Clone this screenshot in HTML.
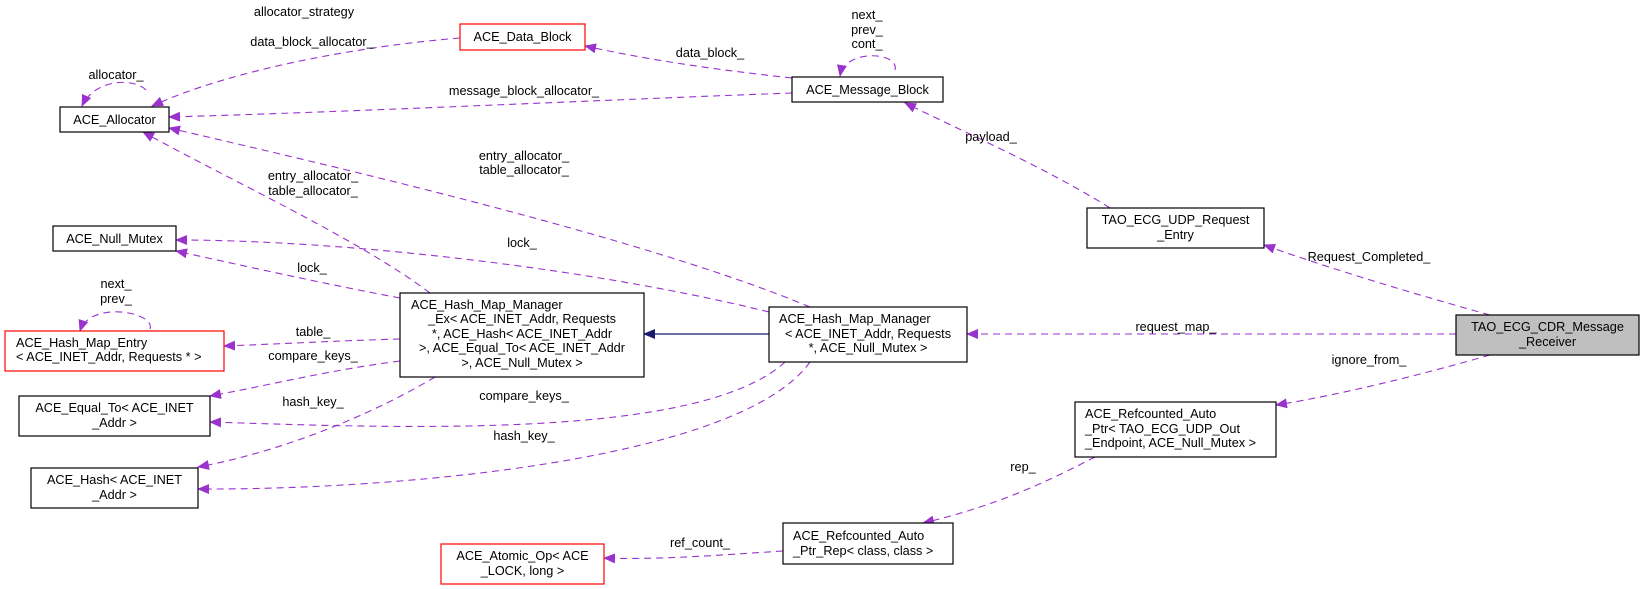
<!DOCTYPE html>
<html><head><meta charset="utf-8"><style>
html,body{margin:0;padding:0;background:#fff;}
svg{display:block;}
text{font-family:"Liberation Sans",Arial,sans-serif;font-size:12.7px;fill:#000;}
.e{fill:none;stroke:#9a32cd;stroke-width:1.1;stroke-dasharray:7,5;}
.b{fill:#fff;stroke:#000;stroke-width:1.2;}
.r{fill:#fff;stroke:#ff0000;stroke-width:1.2;}
</style></head><body>
<svg width="1645" height="589" viewBox="0 0 1645 589" xmlns="http://www.w3.org/2000/svg">
<defs>
<marker id="p" markerWidth="12" markerHeight="10" refX="11" refY="5" orient="auto" markerUnits="userSpaceOnUse"><path d="M0,0 L12,5 L0,10 z" fill="#9a32cd"/></marker>
<marker id="n" markerWidth="12" markerHeight="10" refX="11" refY="5" orient="auto" markerUnits="userSpaceOnUse"><path d="M0,0 L12,5 L0,10 z" fill="#191970"/></marker>
</defs>
<g marker-end="url(#p)">
<path class="e" d="M460,38 C360,46 230,70 152,106"/>
<path class="e" d="M146,90 C135,78 95,78 82,106"/>
<path class="e" d="M792,93 C600,100 350,112 169,117"/>
<path class="e" d="M792,78 C700,68 640,58 585,46"/>
<path class="e" d="M895,70 C900,52 845,48 840,76"/>
<path class="e" d="M1110,208 C1050,170 960,130 905,103"/>
<path class="e" d="M1490,315 C1400,290 1320,265 1264,245"/>
<path class="e" d="M1456,334 L967,334"/>
<path class="e" d="M1490,355 C1420,375 1340,395 1276,405"/>
<path class="e" d="M1095,457 C1050,480 1000,505 923,523"/>
<path class="e" d="M783,551 C720,555 660,560 604,558"/>
<path class="e" d="M430,293 C360,240 230,180 143,132"/>
<path class="e" d="M810,307 C650,240 350,170 169,128"/>
<path class="e" d="M400,298 C330,285 240,265 176,251"/>
<path class="e" d="M769,312 C600,270 350,240 176,240"/>
<path class="e" d="M400,339 C330,341 280,344 224,346"/>
<path class="e" d="M150,329 C156,312 90,300 80,331"/>
<path class="e" d="M400,361 C330,370 270,385 210,396"/>
<path class="e" d="M435,377 C380,410 290,450 198,467"/>
<path class="e" d="M785,362 C700,440 400,428 210,422"/>
<path class="e" d="M810,362 C740,460 400,490 198,489"/>
</g>
<path d="M769,334 L644,334" stroke="#191970" stroke-width="1.2" fill="none" marker-end="url(#n)"/>

<!-- nodes -->
<rect class="b" x="60" y="107" width="109" height="25"/><text x="114.5" y="124" text-anchor="middle">ACE_Allocator</text>
<rect class="r" x="460" y="24" width="125" height="26"/><text x="522.5" y="41" text-anchor="middle">ACE_Data_Block</text>
<rect class="b" x="792" y="77" width="151" height="25"/><text x="867.5" y="94" text-anchor="middle">ACE_Message_Block</text>
<rect class="b" x="53" y="226" width="123" height="25"/><text x="114.5" y="243" text-anchor="middle">ACE_Null_Mutex</text>
<rect class="r" x="5" y="331" width="219" height="40"/><text x="16" y="347">ACE_Hash_Map_Entry</text><text x="16" y="361">&lt; ACE_INET_Addr, Requests * &gt;</text>
<rect class="b" x="19" y="396" width="191" height="40"/><text x="114.5" y="412" text-anchor="middle">ACE_Equal_To&lt; ACE_INET</text><text x="114.5" y="427" text-anchor="middle">_Addr &gt;</text>
<rect class="b" x="31" y="468" width="167" height="40"/><text x="114.5" y="484" text-anchor="middle">ACE_Hash&lt; ACE_INET</text><text x="114.5" y="499" text-anchor="middle">_Addr &gt;</text>
<rect class="b" x="400" y="293" width="244" height="84"/>
<text x="411" y="309">ACE_Hash_Map_Manager</text>
<text x="522" y="323" text-anchor="middle">_Ex&lt; ACE_INET_Addr, Requests</text>
<text x="522" y="338" text-anchor="middle">*, ACE_Hash&lt; ACE_INET_Addr</text>
<text x="522" y="352" text-anchor="middle">&gt;, ACE_Equal_To&lt; ACE_INET_Addr</text>
<text x="522" y="367" text-anchor="middle">&gt;, ACE_Null_Mutex &gt;</text>
<rect class="b" x="769" y="307" width="198" height="55"/>
<text x="779" y="323">ACE_Hash_Map_Manager</text>
<text x="868" y="338" text-anchor="middle">&lt; ACE_INET_Addr, Requests</text>
<text x="868" y="352" text-anchor="middle">*, ACE_Null_Mutex &gt;</text>
<rect class="b" x="1087" y="208" width="177" height="40"/><text x="1175.5" y="224" text-anchor="middle">TAO_ECG_UDP_Request</text><text x="1175.5" y="239" text-anchor="middle">_Entry</text>
<rect x="1456" y="315" width="183" height="40" fill="#bfbfbf" stroke="#000" stroke-width="1.2"/><text x="1547.5" y="331" text-anchor="middle">TAO_ECG_CDR_Message</text><text x="1547.5" y="346" text-anchor="middle">_Receiver</text>
<rect class="b" x="1075" y="402" width="201" height="55"/>
<text x="1085" y="418">ACE_Refcounted_Auto</text>
<text x="1085" y="433">_Ptr&lt; TAO_ECG_UDP_Out</text>
<text x="1085" y="447">_Endpoint, ACE_Null_Mutex &gt;</text>
<rect class="b" x="783" y="523" width="170" height="41"/><text x="793" y="540">ACE_Refcounted_Auto</text><text x="793" y="555">_Ptr_Rep&lt; class, class &gt;</text>
<rect class="r" x="441" y="544" width="163" height="40"/><text x="522.5" y="560" text-anchor="middle">ACE_Atomic_Op&lt; ACE</text><text x="522.5" y="575" text-anchor="middle">_LOCK, long &gt;</text>

<!-- edge labels -->
<g text-anchor="middle">
<text x="304" y="16">allocator_strategy</text>
<text x="312" y="46">data_block_allocator_</text>
<text x="116" y="79">allocator_</text>
<text x="867" y="19">next_</text><text x="867" y="34">prev_</text><text x="867" y="48">cont_</text>
<text x="710" y="57">data_block_</text>
<text x="524" y="95">message_block_allocator_</text>
<text x="991" y="141">payload_</text>
<text x="524" y="160">entry_allocator_</text><text x="524" y="174">table_allocator_</text>
<text x="313" y="180">entry_allocator_</text><text x="313" y="195">table_allocator_</text>
<text x="522" y="247">lock_</text>
<text x="312" y="272">lock_</text>
<text x="116" y="288">next_</text><text x="116" y="303">prev_</text>
<text x="313" y="336">table_</text>
<text x="313" y="360">compare_keys_</text>
<text x="313" y="406">hash_key_</text>
<text x="524" y="400">compare_keys_</text>
<text x="524" y="440">hash_key_</text>
<text x="1369" y="261">Request_Completed_</text>
<text x="1176" y="331">request_map_</text>
<text x="1369" y="364">ignore_from_</text>
<text x="1023" y="471">rep_</text>
<text x="700" y="547">ref_count_</text>
</g>
</svg>
</body></html>
